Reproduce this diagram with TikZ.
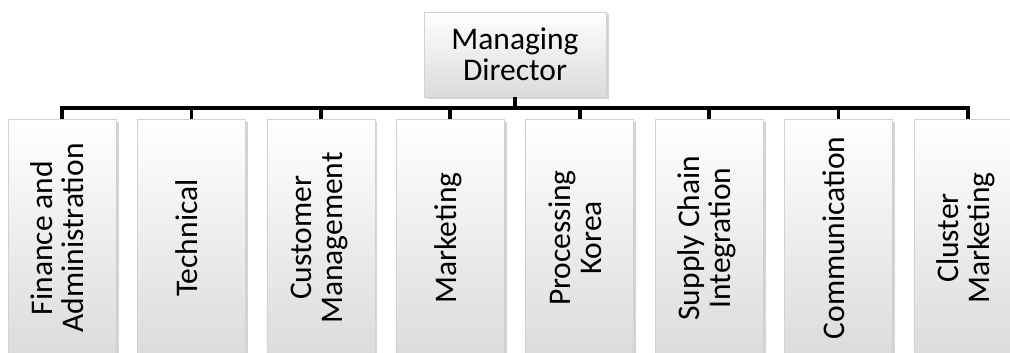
\documentclass[tikz,border=0pt]{standalone}
\usepackage{fontspec}
\setmainfont{Carlito}
\usetikzlibrary{positioning, shadows}

\tikzset{
  box/.style={draw=gray!35, line width=0.6pt, top color=white, bottom color=gray!28,
    drop shadow={shadow xshift=2.5pt, shadow yshift=-2.5pt, opacity=0.35, fill=gray},
    inner sep=0pt, align=center, font=\fontsize{31.5}{31}\selectfont},
  dept/.style={box, minimum width=108pt, minimum height=238pt},
  link/.style={line width=3.8pt}
}
\newcommand{\vtext}[1]{\rotatebox{90}{\begin{tabular}{@{}c@{}}#1\end{tabular}}}

\begin{document}
\begin{tikzpicture}[x=1pt,y=1pt,node distance=129.4pt,on grid]
   \useasboundingbox (0,0) rectangle (1010,-353);
   \node[box, minimum width=182pt, minimum height=85pt] (md) at (515,-54.5) {Managing\\Director};
   \node[dept] (d1) at (62,-238) {\vtext{Finance and\\Administration}};
   \node[dept] (d2) [right=of d1] {\vtext{Technical}};
   \node[dept] (d3) [right=of d2] {\vtext{Customer\\Management}};
   \node[dept] (d4) [right=of d3] {\vtext{Marketing}};
   \node[dept] (d5) [right=of d4] {\vtext{Processing\\Korea}};
   \node[dept] (d6) [right=of d5] {\vtext{Supply Chain\\Integration}};
   \node[dept] (d7) [right=of d6] {\vtext{Communication}};
   \node[dept] (d8) [right=of d7] {\vtext{Cluster\\Marketing}};
    \foreach \d in {1,...,8}
      \draw[link] (md.south) -- ++(0,-11) -| (d\d.north);
\end{tikzpicture}
\end{document}
